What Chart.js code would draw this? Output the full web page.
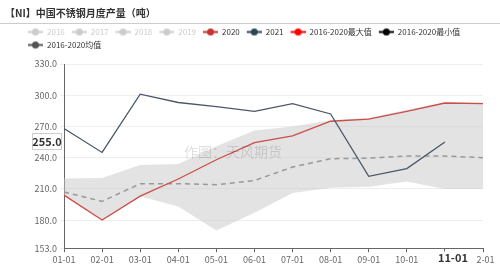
<!DOCTYPE html>
<html>
<head>
<meta charset="utf-8">
<script src="https://cdn.jsdelivr.net/npm/chart.js@4.4.0/dist/chart.umd.min.js"></script>
<style>
  html, body { margin: 0; padding: 0; background: #fff; }
  #wrap { width: 500px; height: 271px; position: relative; }
</style>
</head>
<body>
<div id="wrap"><canvas id="c"></canvas></div>
<script>
const months = ["01-01","02-01","03-01","04-01","05-01","06-01","07-01","08-01","09-01","10-01","11-01","12-01"];
const y2021 = [268, 245, 301, 293, 289, 284.5, 292, 282, 222, 229.5, 255];
const y2020 = [204, 180, 203, 219.5, 238, 254.5, 261, 275, 277, 284.5, 292.5, 292];
const bandMax = [220, 220.5, 233, 234, 251, 266, 270, 276, 278, 286, 293, 293];
const bandMin = [204, 180, 203, 193, 170, 187, 206, 211, 212, 217, 210, 210];
const avg5 = [207, 198, 215, 215, 214, 218, 231, 239, 239.5, 241.5, 241.5, 240];
const yTicks = [153, 180, 210, 240, 270, 300, 330];

const legendNames = ["2016","2017","2018","2019","2020","2021","2016-2020最大值","2016-2020最小值","2016-2020均值"];
const legendColors = ["#ccc","#ccc","#ccc","#ccc","#c23531","#2f4554","#ff0000","#000000","#555555"];
const legendText = ["#ccc","#ccc","#ccc","#ccc","#333","#333","#333","#333","#333"];

const pointerIndex = 10;
const pointerValue = 255;

const FONT = "'Microsoft YaHei', 'Noto Sans CJK SC', sans-serif";

// legend icon: short line with a dot in the middle
function makeIcon(color) {
  const cv = document.createElement("canvas");
  cv.width = 17; cv.height = 9;
  const g = cv.getContext("2d");
  g.strokeStyle = color; g.lineWidth = 2;
  g.beginPath(); g.moveTo(2, 4.5); g.lineTo(17, 4.5); g.stroke();
  g.fillStyle = color;
  g.beginPath(); g.arc(9.5, 4.5, 3.5, 0, Math.PI * 2); g.fill();
  return cv;
}
const icons = legendColors.map(makeIcon);

const decor = {
  id: "decor",
  beforeDraw(chart) {
    const ctx = chart.ctx;
    ctx.save();
    ctx.fillStyle = "#333";
    ctx.font = "bold 10px " + FONT;
    ctx.textBaseline = "middle";
    ctx.fillText("【NI】中国不锈钢月度产量（吨）", 5, 13);
    ctx.strokeStyle = "#ccc"; ctx.lineWidth = 1;
    ctx.beginPath(); ctx.moveTo(0, 23.5); ctx.lineTo(500, 23.5); ctx.stroke();
    ctx.restore();
  },
  afterDatasetsDraw(chart) {
    const ctx = chart.ctx, a = chart.chartArea;
    ctx.save();
    ctx.fillStyle = "rgba(0,0,0,0.13)";
    ctx.font = "14px " + FONT;
    ctx.textAlign = "center"; ctx.textBaseline = "middle";
    ctx.fillText("作图：天风期货", a.left + 169, 152);
    ctx.restore();
  },
  afterDraw(chart) {
    const ctx = chart.ctx;
    const xs = chart.scales.x, ys = chart.scales.y;
    ctx.save();
    // y pointer label
    const py = ys.getPixelForValue(pointerValue);
    ctx.fillStyle = "#fff"; ctx.strokeStyle = "#ccc"; ctx.lineWidth = 1;
    ctx.fillRect(32.5, py - 8.5, 29, 16); ctx.strokeRect(32.5, py - 8.5, 29, 16);
    ctx.fillStyle = "#333"; ctx.font = "bold 11px " + FONT;
    ctx.textAlign = "center"; ctx.textBaseline = "middle";
    ctx.fillText(pointerValue.toFixed(1), 47, py);
    // x pointer label
    const px = xs.getPixelForValue(pointerIndex) + 8;
    ctx.fillStyle = "#fff";
    ctx.fillRect(px - 20, 251.5, 43, 14);
    ctx.fillStyle = "#333";
    ctx.fillText(months[pointerIndex], px, 257.5);
    ctx.restore();
  }
};

new Chart(document.getElementById("c"), {
  type: "line",
  data: {
    labels: months,
    datasets: [
      { label: "2021", data: y2021, borderColor: "#4a5866", borderWidth: 1.3, pointRadius: 0, fill: false, tension: 0 },
      { label: "2020", data: y2020, borderColor: "#cc4d4a", borderWidth: 1.3, pointRadius: 0, fill: false, tension: 0 },
      { label: "2016-2020均值", data: avg5, borderColor: "#999", borderWidth: 1.5, borderDash: [5, 4], pointRadius: 0, fill: false },
      { label: "2016-2020最大值", data: bandMax, borderColor: "rgba(0,0,0,0)", borderWidth: 0, pointRadius: 0,
        backgroundColor: "rgba(200,200,200,0.5)", fill: "+1" },
      { label: "2016-2020最小值", data: bandMin, borderColor: "rgba(0,0,0,0)", borderWidth: 0, pointRadius: 0, fill: false }
    ]
  },
  options: {
    responsive: true,
    maintainAspectRatio: false,
    animation: false,
    layout: { padding: { left: 21, right: 17, top: 23, bottom: 4 } },
    plugins: {
      tooltip: { enabled: false },
      legend: {
        position: "top",
        align: "start",
        onClick: null,
        labels: {
          usePointStyle: true,
          pointStyleWidth: 17,
          boxHeight: 9,
          padding: 5,
          font: { size: 8, family: FONT },
          generateLabels: () => legendNames.map((n, i) => ({
            text: n, pointStyle: icons[i], fillStyle: legendColors[i], strokeStyle: legendColors[i],
            fontColor: legendText[i], lineWidth: 0, hidden: false, datasetIndex: i
          }))
        }
      }
    },
    scales: {
      xTop: {
        type: "category", position: "top", labels: months,
        grid: { display: false }, border: { display: false }, ticks: { display: false },
        afterFit: s => { s.height = 5; }
      },
      x: {
        grid: { display: true, drawOnChartArea: false, tickLength: 4, color: "#666" },
        border: { color: "#666" },
        ticks: { color: "#666", font: { size: 9, family: FONT }, maxRotation: 0, autoSkip: false, padding: 2 }
      },
      y: {
        min: 153, max: 330,
        afterBuildTicks: s => { s.ticks = yTicks.map(v => ({ value: v })); },
        afterFit: s => { s.width = 43; },
        grid: { color: "#eee", tickLength: 4, drawTicks: true },
        border: { color: "#666" },
        ticks: { color: "#666", font: { size: 9, family: FONT }, padding: 3, callback: v => Number(v).toFixed(1) }
      }
    }
  },
  plugins: [decor]
});
</script>
</body>
</html>
